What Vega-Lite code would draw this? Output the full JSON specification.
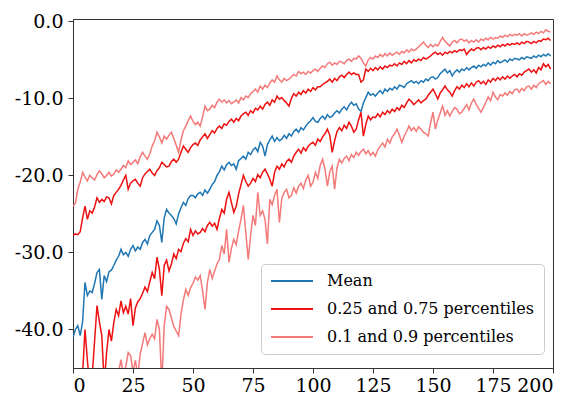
{
"$schema": "https://vega.github.io/schema/vega-lite/v6.json",
"width": 480, "height": 349,
"autosize": "none",
"padding": {"left": 73, "top": 19, "right": 32, "bottom": 28},
"background": "white",
"config": {
  "font": "DejaVu Serif",
  "view": {"stroke": "#333333", "strokeWidth": 1},
  "axis": {"grid": false, "labelFont": "DejaVu Serif", "labelFontSize": 19, "labelColor": "#000000", "domainColor": "#333333", "tickColor": "#333333", "tickSize": 5, "tickWidth": 1, "domainWidth": 1},
  "axisY": {"labelPadding": 5},
  "axisX": {"labelPadding": 3}
},
"data": {"values": [
{"x":0,"m":-41,"a":-27.8,"b":-24,"c":-48,"d":-52},
{"x":1,"m":-40,"a":-27.6,"b":-23.6,"c":-47,"d":-50},
{"x":2,"m":-39.5,"a":-27.7,"b":-21.8,"c":-49,"d":-53},
{"x":3,"m":-40.8,"a":-27.3,"b":-20.9,"c":-46.5,"d":-51},
{"x":4,"m":-39,"a":-25.5,"b":-19.6,"c":-45.8,"d":-49},
{"x":5,"m":-33.9,"a":-24,"b":-20.2,"c":-40,"d":-50},
{"x":6,"m":-35.6,"a":-25.7,"b":-20.7,"c":-44,"d":-48},
{"x":7,"m":-35,"a":-24.6,"b":-20,"c":-47.5,"d":-51},
{"x":8,"m":-35.2,"a":-24.9,"b":-20.3,"c":-46,"d":-49},
{"x":9,"m":-34,"a":-24.1,"b":-20.6,"c":-41.5,"d":-47.5},
{"x":10,"m":-32.6,"a":-22.9,"b":-19.9,"c":-36.9,"d":-50},
{"x":11,"m":-32.2,"a":-23.5,"b":-19.4,"c":-39,"d":-48},
{"x":12,"m":-36.1,"a":-23.1,"b":-19.8,"c":-40.8,"d":-52},
{"x":13,"m":-33,"a":-23.4,"b":-20.3,"c":-47,"d":-49},
{"x":14,"m":-33.8,"a":-22.8,"b":-20,"c":-43,"d":-47},
{"x":15,"m":-32.5,"a":-22.9,"b":-19.6,"c":-40,"d":-49},
{"x":16,"m":-32.3,"a":-23.7,"b":-20.1,"c":-41.5,"d":-46.5},
{"x":17,"m":-31.7,"a":-22.6,"b":-19.8,"c":-39.1,"d":-48},
{"x":18,"m":-31,"a":-22.2,"b":-19.3,"c":-37.4,"d":-46},
{"x":19,"m":-30.5,"a":-21.8,"b":-19.6,"c":-38.2,"d":-45.5},
{"x":20,"m":-29.6,"a":-21.3,"b":-19.2,"c":-36.3,"d":-43.9},
{"x":21,"m":-30.3,"a":-20.6,"b":-18.7,"c":-37.8,"d":-46},
{"x":22,"m":-30,"a":-20,"b":-19,"c":-37,"d":-44.8},
{"x":23,"m":-30.5,"a":-21.8,"b":-18.1,"c":-38,"d":-43},
{"x":24,"m":-29.6,"a":-21,"b":-18.6,"c":-36,"d":-43.4},
{"x":25,"m":-29.1,"a":-20.7,"b":-18.3,"c":-39.5,"d":-45.5},
{"x":26,"m":-29.8,"a":-20.5,"b":-18,"c":-37.2,"d":-44},
{"x":27,"m":-29.3,"a":-21,"b":-18.5,"c":-36.4,"d":-46},
{"x":28,"m":-29.6,"a":-21.4,"b":-17.6,"c":-36,"d":-43.2},
{"x":29,"m":-28.7,"a":-20.3,"b":-17,"c":-35.3,"d":-41.8},
{"x":30,"m":-28.3,"a":-19.8,"b":-17.5,"c":-34.5,"d":-40.4},
{"x":31,"m":-28.9,"a":-19.5,"b":-17.9,"c":-35.1,"d":-42},
{"x":32,"m":-27.8,"a":-19.2,"b":-17.2,"c":-33.8,"d":-41.2},
{"x":33,"m":-27.4,"a":-19.7,"b":-16.2,"c":-32.6,"d":-40.6},
{"x":34,"m":-27,"a":-20,"b":-15.5,"c":-33.4,"d":-41.2},
{"x":35,"m":-25.9,"a":-19.4,"b":-14.4,"c":-30.6,"d":-38.7},
{"x":36,"m":-26.5,"a":-19,"b":-15,"c":-32.2,"d":-40},
{"x":37,"m":-28.7,"a":-18.3,"b":-15.8,"c":-35.6,"d":-47},
{"x":38,"m":-25.5,"a":-18.6,"b":-14.9,"c":-31.7,"d":-39.5},
{"x":39,"m":-24.4,"a":-18.9,"b":-15.3,"c":-31,"d":-37},
{"x":40,"m":-24.9,"a":-18.8,"b":-14.8,"c":-32.4,"d":-37.4},
{"x":41,"m":-25.2,"a":-18.2,"b":-14.4,"c":-31.5,"d":-38.5},
{"x":42,"m":-25.6,"a":-17.9,"b":-15.2,"c":-30.2,"d":-39.6},
{"x":43,"m":-26.3,"a":-18.3,"b":-16.1,"c":-30.8,"d":-40.2},
{"x":44,"m":-25,"a":-17.9,"b":-17,"c":-29.6,"d":-40.8},
{"x":45,"m":-24.2,"a":-17,"b":-15.4,"c":-29.9,"d":-38},
{"x":46,"m":-23.5,"a":-16.2,"b":-14.2,"c":-28.8,"d":-36.2},
{"x":47,"m":-23.9,"a":-16.6,"b":-13.6,"c":-28.2,"d":-34.8},
{"x":48,"m":-23,"a":-17,"b":-12.9,"c":-28.6,"d":-35.6},
{"x":49,"m":-22.6,"a":-16.4,"b":-12.3,"c":-27,"d":-34.6},
{"x":50,"m":-22.6,"a":-16,"b":-13,"c":-27.8,"d":-34},
{"x":51,"m":-22.9,"a":-15.8,"b":-13.4,"c":-27.2,"d":-33.2},
{"x":52,"m":-22.4,"a":-16.1,"b":-13.1,"c":-27.6,"d":-33.6},
{"x":53,"m":-22.2,"a":-15.4,"b":-13.6,"c":-27.4,"d":-33},
{"x":54,"m":-22.6,"a":-15,"b":-12.4,"c":-26.9,"d":-35},
{"x":55,"m":-21.9,"a":-14.6,"b":-11,"c":-27.3,"d":-37.4},
{"x":56,"m":-22.3,"a":-15.2,"b":-11.6,"c":-26.5,"d":-33.9},
{"x":57,"m":-21.8,"a":-14.7,"b":-11.4,"c":-26.1,"d":-32.2},
{"x":58,"m":-21.2,"a":-14.2,"b":-10.9,"c":-26.6,"d":-33.4},
{"x":59,"m":-20.8,"a":-14.5,"b":-11.2,"c":-26.2,"d":-32.4},
{"x":60,"m":-20,"a":-13.9,"b":-10.5,"c":-27,"d":-31.5},
{"x":61,"m":-19.5,"a":-13.6,"b":-10.1,"c":-25.6,"d":-30.9},
{"x":62,"m":-18.8,"a":-13.9,"b":-10.5,"c":-24.4,"d":-29.1},
{"x":63,"m":-19.3,"a":-13.3,"b":-10.2,"c":-24.9,"d":-30.2},
{"x":64,"m":-18.6,"a":-13.5,"b":-10.6,"c":-23.1,"d":-27},
{"x":65,"m":-18.3,"a":-13,"b":-10.3,"c":-22.2,"d":-31.3},
{"x":66,"m":-18.7,"a":-12.7,"b":-10.7,"c":-23.5,"d":-29.5},
{"x":67,"m":-18.5,"a":-13.1,"b":-10.5,"c":-24.8,"d":-28.3},
{"x":68,"m":-19.2,"a":-12.6,"b":-10.2,"c":-24,"d":-29},
{"x":69,"m":-18.1,"a":-12.9,"b":-10.6,"c":-22.4,"d":-27.2},
{"x":70,"m":-17.8,"a":-12.3,"b":-9.9,"c":-21.2,"d":-25.7},
{"x":71,"m":-17.5,"a":-12,"b":-10.2,"c":-20,"d":-23.9},
{"x":72,"m":-17.9,"a":-11.8,"b":-9.7,"c":-20.8,"d":-27.4},
{"x":73,"m":-17,"a":-12.2,"b":-9.9,"c":-21.4,"d":-30.9},
{"x":74,"m":-17.3,"a":-11.6,"b":-9.4,"c":-21,"d":-27.8},
{"x":75,"m":-16.7,"a":-11.9,"b":-9.1,"c":-20.4,"d":-25.2},
{"x":76,"m":-16.4,"a":-11.3,"b":-8.8,"c":-20.8,"d":-26.5},
{"x":77,"m":-16.9,"a":-11.5,"b":-9.2,"c":-19.9,"d":-22.2},
{"x":78,"m":-15.7,"a":-11,"b":-8.4,"c":-20.3,"d":-25.2},
{"x":79,"m":-16.2,"a":-11.4,"b":-8.8,"c":-19.6,"d":-24.6},
{"x":80,"m":-17.5,"a":-10.8,"b":-8.3,"c":-19.2,"d":-25.7},
{"x":81,"m":-16,"a":-10.5,"b":-8.6,"c":-19.8,"d":-28.9},
{"x":82,"m":-15.4,"a":-10.9,"b":-8,"c":-20.5,"d":-23.1},
{"x":83,"m":-14.9,"a":-10.2,"b":-7.6,"c":-21.4,"d":-23.8},
{"x":84,"m":-15.6,"a":-10.5,"b":-7.9,"c":-19.6,"d":-22.6},
{"x":85,"m":-15.1,"a":-9.7,"b":-7.1,"c":-18.8,"d":-21.8},
{"x":86,"m":-15.5,"a":-10.1,"b":-7.6,"c":-19.2,"d":-26.1},
{"x":87,"m":-15.3,"a":-9.9,"b":-7.9,"c":-18.5,"d":-23},
{"x":88,"m":-14.8,"a":-10.3,"b":-7.4,"c":-18.9,"d":-22.2},
{"x":89,"m":-15.2,"a":-10.6,"b":-7.7,"c":-18.2,"d":-21.8},
{"x":90,"m":-14.6,"a":-11,"b":-7.5,"c":-17.9,"d":-22.9},
{"x":91,"m":-14.9,"a":-10,"b":-7.2,"c":-18.3,"d":-22.6},
{"x":92,"m":-14.3,"a":-9.4,"b":-6.9,"c":-17.5,"d":-21.6},
{"x":93,"m":-14,"a":-9.7,"b":-7.1,"c":-17,"d":-22.3},
{"x":94,"m":-14.4,"a":-9.2,"b":-6.5,"c":-16.6,"d":-21.4},
{"x":95,"m":-13.8,"a":-9.5,"b":-6.8,"c":-17.1,"d":-21},
{"x":96,"m":-14.1,"a":-9,"b":-6.6,"c":-16.4,"d":-21.7},
{"x":97,"m":-13.6,"a":-9.3,"b":-6.9,"c":-16.8,"d":-20.6},
{"x":98,"m":-13.2,"a":-8.8,"b":-6.5,"c":-16.2,"d":-20},
{"x":99,"m":-12.9,"a":-9.1,"b":-6.7,"c":-15.9,"d":-21.4},
{"x":100,"m":-12.5,"a":-8.6,"b":-6.4,"c":-15.7,"d":-20.9},
{"x":101,"m":-13,"a":-8.9,"b":-6.2,"c":-16.1,"d":-19.6},
{"x":102,"m":-13.1,"a":-8.5,"b":-6.5,"c":-15.3,"d":-20.4},
{"x":103,"m":-12.6,"a":-8.5,"b":-6.1,"c":-15.6,"d":-18.7},
{"x":104,"m":-12.3,"a":-8.2,"b":-5.8,"c":-15,"d":-17.9},
{"x":105,"m":-12.7,"a":-8,"b":-6,"c":-14.6,"d":-19.2},
{"x":106,"m":-12.1,"a":-7.8,"b":-5.5,"c":-14,"d":-21.4},
{"x":107,"m":-12.5,"a":-7.5,"b":-5.3,"c":-14.8,"d":-19.5},
{"x":108,"m":-12.3,"a":-7.9,"b":-5.7,"c":-17,"d":-18.8},
{"x":109,"m":-11.9,"a":-7.4,"b":-5.4,"c":-15.5,"d":-21.8},
{"x":110,"m":-11.6,"a":-7.7,"b":-5.6,"c":-14.3,"d":-19},
{"x":111,"m":-11.9,"a":-7.2,"b":-5.2,"c":-13.8,"d":-17.9},
{"x":112,"m":-11.4,"a":-7,"b":-5.3,"c":-14.2,"d":-18.4},
{"x":113,"m":-11.1,"a":-7.3,"b":-5.5,"c":-13.5,"d":-17.8},
{"x":114,"m":-11.5,"a":-6.9,"b":-5.1,"c":-13.9,"d":-17.5},
{"x":115,"m":-10.9,"a":-6.6,"b":-4.9,"c":-13.1,"d":-18.1},
{"x":116,"m":-10.5,"a":-6.9,"b":-5.2,"c":-13.6,"d":-17.3},
{"x":117,"m":-10.9,"a":-6.7,"b":-4.8,"c":-14.4,"d":-17.7},
{"x":118,"m":-10.7,"a":-6.9,"b":-4.9,"c":-14,"d":-17},
{"x":119,"m":-11.4,"a":-6.9,"b":-4.5,"c":-12.8,"d":-17.4},
{"x":120,"m":-11.7,"a":-7.9,"b":-4.8,"c":-11.8,"d":-16.9},
{"x":121,"m":-10.6,"a":-7.6,"b":-5.4,"c":-14.9,"d":-16.6},
{"x":122,"m":-9.9,"a":-6.2,"b":-5.8,"c":-13.4,"d":-17.2},
{"x":123,"m":-9.2,"a":-6.5,"b":-5,"c":-12.3,"d":-16.8},
{"x":124,"m":-9.6,"a":-6.1,"b":-4.7,"c":-12.8,"d":-17.4},
{"x":125,"m":-9.4,"a":-6.4,"b":-4.9,"c":-12.4,"d":-17},
{"x":126,"m":-9.7,"a":-6,"b":-4.5,"c":-12.5,"d":-17.5},
{"x":127,"m":-9.3,"a":-6.3,"b":-4.7,"c":-12,"d":-16.7},
{"x":128,"m":-9,"a":-5.9,"b":-4.3,"c":-12.4,"d":-16.2},
{"x":129,"m":-9.4,"a":-6.2,"b":-4.6,"c":-11.8,"d":-15.8},
{"x":130,"m":-8.8,"a":-5.8,"b":-4.2,"c":-12.1,"d":-16.3},
{"x":131,"m":-9.1,"a":-6,"b":-4.5,"c":-11.6,"d":-15.3},
{"x":132,"m":-8.7,"a":-5.7,"b":-4.1,"c":-11.9,"d":-15.8},
{"x":133,"m":-8.9,"a":-5.8,"b":-4.4,"c":-11.4,"d":-15},
{"x":134,"m":-8.5,"a":-5.5,"b":-4.2,"c":-11.7,"d":-14.6},
{"x":135,"m":-8.8,"a":-5.8,"b":-4,"c":-11.2,"d":-14},
{"x":136,"m":-8.3,"a":-5.4,"b":-4.3,"c":-11.5,"d":-14.8},
{"x":137,"m":-8.4,"a":-5.6,"b":-3.9,"c":-10.9,"d":-15.7},
{"x":138,"m":-8.6,"a":-5.2,"b":-4.1,"c":-11.2,"d":-14.9},
{"x":139,"m":-8.1,"a":-5.5,"b":-3.7,"c":-10.6,"d":-14.3},
{"x":140,"m":-7.9,"a":-5.1,"b":-4,"c":-10.1,"d":-13.6},
{"x":141,"m":-7.7,"a":-5.4,"b":-3.6,"c":-10.4,"d":-14.2},
{"x":142,"m":-8,"a":-5,"b":-3.8,"c":-10.8,"d":-13.8},
{"x":143,"m":-7.8,"a":-5.2,"b":-3.6,"c":-10.5,"d":-14.3},
{"x":144,"m":-8.1,"a":-4.9,"b":-3.3,"c":-10.2,"d":-13.7},
{"x":145,"m":-7.7,"a":-5.1,"b":-3,"c":-10.6,"d":-14},
{"x":146,"m":-7.9,"a":-4.7,"b":-2.7,"c":-10.3,"d":-14.4},
{"x":147,"m":-7.5,"a":-4.9,"b":-3.1,"c":-10.1,"d":-14.6},
{"x":148,"m":-7.7,"a":-4.7,"b":-3.4,"c":-9.6,"d":-14.9},
{"x":149,"m":-7.3,"a":-4.5,"b":-3,"c":-9.2,"d":-13.2},
{"x":150,"m":-7.2,"a":-4.2,"b":-3.3,"c":-8.8,"d":-11.8},
{"x":151,"m":-7.5,"a":-4,"b":-3,"c":-9.4,"d":-14},
{"x":152,"m":-7.3,"a":-4.3,"b":-3.2,"c":-10.1,"d":-12.8},
{"x":153,"m":-6.8,"a":-4.1,"b":-2.6,"c":-9.3,"d":-11.9},
{"x":154,"m":-6.5,"a":-4.4,"b":-2.1,"c":-8.9,"d":-11},
{"x":155,"m":-6.2,"a":-4,"b":-2.6,"c":-8.4,"d":-12.2},
{"x":156,"m":-6.7,"a":-4.2,"b":-2.9,"c":-8.9,"d":-11.6},
{"x":157,"m":-6.4,"a":-3.9,"b":-3.2,"c":-9.2,"d":-12.3},
{"x":158,"m":-7.1,"a":-4.1,"b":-2.7,"c":-9.7,"d":-11.7},
{"x":159,"m":-6.6,"a":-3.8,"b":-2.5,"c":-9,"d":-11.2},
{"x":160,"m":-6.3,"a":-4,"b":-2.8,"c":-8.5,"d":-11.4},
{"x":161,"m":-6.6,"a":-3.7,"b":-2.4,"c":-8.8,"d":-12},
{"x":162,"m":-6.2,"a":-3.8,"b":-2.3,"c":-8.3,"d":-11.8},
{"x":163,"m":-6.4,"a":-3.6,"b":-2.6,"c":-8.6,"d":-11.3},
{"x":164,"m":-6,"a":-4.3,"b":-2.4,"c":-8.1,"d":-10.8},
{"x":165,"m":-6.3,"a":-3.9,"b":-2.8,"c":-8.5,"d":-11.5},
{"x":166,"m":-6,"a":-3.6,"b":-2.5,"c":-8,"d":-10.6},
{"x":167,"m":-5.8,"a":-3.8,"b":-2.7,"c":-8.4,"d":-10.1},
{"x":168,"m":-6.1,"a":-3.5,"b":-2.4,"c":-7.9,"d":-10.8},
{"x":169,"m":-5.7,"a":-3.4,"b":-2.7,"c":-7.7,"d":-11.3},
{"x":170,"m":-5.9,"a":-3.7,"b":-2.3,"c":-8.1,"d":-11.8},
{"x":171,"m":-5.6,"a":-3.4,"b":-2.5,"c":-7.8,"d":-11.2},
{"x":172,"m":-5.8,"a":-3.6,"b":-2.2,"c":-8.2,"d":-10.5},
{"x":173,"m":-5.4,"a":-3.3,"b":-2.4,"c":-7.6,"d":-9.8},
{"x":174,"m":-5.7,"a":-3.5,"b":-2.1,"c":-7.9,"d":-10.3},
{"x":175,"m":-5.3,"a":-3.2,"b":-2.3,"c":-7.4,"d":-9.2},
{"x":176,"m":-5.5,"a":-3.4,"b":-2.1,"c":-7.7,"d":-9.8},
{"x":177,"m":-5.1,"a":-3.1,"b":-2.2,"c":-7.3,"d":-10.2},
{"x":178,"m":-5.4,"a":-3.3,"b":-1.9,"c":-7.6,"d":-9.5},
{"x":179,"m":-5.2,"a":-3,"b":-2.1,"c":-7.2,"d":-9.7},
{"x":180,"m":-5,"a":-3.2,"b":-1.8,"c":-7.5,"d":-9.3},
{"x":181,"m":-5.3,"a":-2.9,"b":-2,"c":-7.1,"d":-9.6},
{"x":182,"m":-4.9,"a":-3.1,"b":-1.7,"c":-7.4,"d":-9.1},
{"x":183,"m":-5.1,"a":-2.9,"b":-1.9,"c":-7.1,"d":-9.4},
{"x":184,"m":-4.8,"a":-3,"b":-1.7,"c":-6.9,"d":-8.9},
{"x":185,"m":-4.9,"a":-2.8,"b":-1.8,"c":-7.2,"d":-8.8},
{"x":186,"m":-5,"a":-3,"b":-1.6,"c":-6.8,"d":-9.2},
{"x":187,"m":-4.7,"a":-2.7,"b":-1.9,"c":-7,"d":-8.7},
{"x":188,"m":-4.9,"a":-2.9,"b":-1.6,"c":-6.6,"d":-9},
{"x":189,"m":-4.6,"a":-2.6,"b":-1.8,"c":-6.4,"d":-8.5},
{"x":190,"m":-4.7,"a":-2.7,"b":-1.7,"c":-6.2,"d":-8.4},
{"x":191,"m":-4.8,"a":-2.9,"b":-1.5,"c":-6.6,"d":-8.8},
{"x":192,"m":-4.5,"a":-2.6,"b":-1.7,"c":-6.3,"d":-8.3},
{"x":193,"m":-4.7,"a":-2.8,"b":-1.4,"c":-6.7,"d":-8.6},
{"x":194,"m":-4.4,"a":-2.5,"b":-1.6,"c":-6,"d":-8.1},
{"x":195,"m":-4.6,"a":-2.6,"b":-1.3,"c":-6.3,"d":-7.9},
{"x":196,"m":-4.3,"a":-2.3,"b":-1.5,"c":-5.5,"d":-7.7},
{"x":197,"m":-4.5,"a":-2.4,"b":-1.1,"c":-5.9,"d":-8.2},
{"x":198,"m":-4.2,"a":-2.2,"b":-1.3,"c":-5.6,"d":-7.8},
{"x":199,"m":-4.5,"a":-2.5,"b":-1.4,"c":-6.2,"d":-8.1}
]},
"encoding": {
  "x": {"field": "x", "type": "quantitative", "title": null,
        "scale": {"domain": [0, 200], "nice": false, "zero": false},
        "axis": {"values": [0, 25, 50, 75, 100, 125, 150, 175, 200], "format": "d"}}
},
"layer": [
  {"mark": {"type": "line", "strokeWidth": 1.5, "clip": true},
   "encoding": {
     "y": {"field": "m", "type": "quantitative", "title": null,
           "scale": {"domain": [-45, 0.3], "nice": false, "zero": false},
           "axis": {"values": [0, -10, -20, -30, -40], "labelExpr": "replace(format(datum.value, '.1f'), '\u2212', '-')"}},
     "color": {"datum": "Mean", "type": "nominal",
       "scale": {"domain": ["Mean", "0.25 and 0.75 percentiles", "0.1 and 0.9 percentiles"], "range": ["#1f77b4", "#ee1111", "#f47a7a"]},
       "legend": {"title": null, "orient": "none", "legendX": 188, "legendY": 245,
         "symbolType": "M-1,0H5", "symbolSize": 196, "symbolStrokeWidth": 2, "labelOffset": 41,
         "labelFont": "DejaVu Serif", "labelFontSize": 16, "labelColor": "#000000", "labelLimit": 400,
         "rowPadding": 12, "padding": 9, "strokeColor": "#cccccc", "fillColor": "#ffffff", "cornerRadius": 4}}
   }},
  {"mark": {"type": "line", "strokeWidth": 1.5, "clip": true},
   "encoding": {
     "y": {"field": "a", "type": "quantitative", "title": null},
     "color": {"datum": "0.25 and 0.75 percentiles", "type": "nominal"}
   }},
  {"mark": {"type": "line", "strokeWidth": 1.5, "clip": true},
   "encoding": {
     "y": {"field": "c", "type": "quantitative", "title": null},
     "color": {"datum": "0.25 and 0.75 percentiles", "type": "nominal"}
   }},
  {"mark": {"type": "line", "strokeWidth": 1.5, "clip": true},
   "encoding": {
     "y": {"field": "b", "type": "quantitative", "title": null},
     "color": {"datum": "0.1 and 0.9 percentiles", "type": "nominal"}
   }},
  {"mark": {"type": "line", "strokeWidth": 1.5, "clip": true},
   "encoding": {
     "y": {"field": "d", "type": "quantitative", "title": null},
     "color": {"datum": "0.1 and 0.9 percentiles", "type": "nominal"}
   }}
]
}
